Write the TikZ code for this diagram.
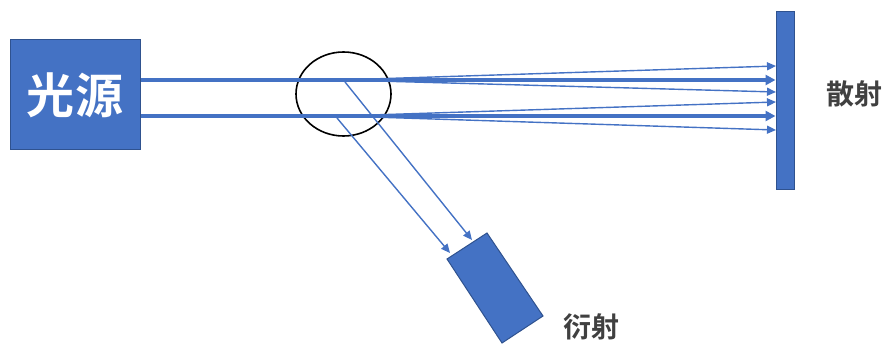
\documentclass[tikz,border=0pt]{standalone}
\usepackage{fontspec}
\newfontfamily\cjk{Noto Sans CJK SC}[BoldFont={Noto Sans CJK SC Bold}]
\usetikzlibrary{arrows.meta,shapes.geometric}
\definecolor{beamblue}{HTML}{4472C4}
\definecolor{edgeblue}{HTML}{2F528F}
\definecolor{labelgray}{HTML}{404040}
\tikzset{
  beam/.style={beamblue,line width=3.2pt,-{Triangle[length=10pt,width=10pt]}},
  ray/.style={beamblue,line width=1.4pt,-{Triangle[length=9pt,width=8pt]}},
  part/.style={fill=beamblue,draw=edgeblue,line width=1pt},
  lbl/.style={text=labelgray,font=\cjk\bfseries\fontsize{28}{28}\selectfont}
}
\begin{document}
\begin{tikzpicture}[x=1pt,y=-1pt]
\useasboundingbox (0,0) rectangle (893,344);
% source, screen, detector
\node[part,minimum width=130pt,minimum height=110pt,inner sep=0pt,
  text=white,font=\cjk\bfseries\fontsize{48}{48}\selectfont] (src) at (75,95) {光源};
\node[part,minimum width=18pt,minimum height=178pt,inner sep=0pt] (scr) at (785,101) {};
\draw[part] (447,259) -- (487,233) -- (543,316) -- (502,343) -- cycle;
\node[lbl] (scat) at (854,94) {散射};
\node[lbl] (diff) at (591,327) {衍射};
% sample
\draw[black,line width=1.6pt] (343.5,94) ellipse [x radius=47.5pt,y radius=42pt];
% incoming beams
\coordinate (up) at (340,80);
\coordinate (lo) at (340,116);
\draw[beam] (src.east |- up) -- (scr.west |- up);
\draw[beam] (src.east |- lo) -- (scr.west |- lo);
% scattered rays
\draw[ray] (up) -- (776,66);
\draw[ray] (up) -- (776,92);
\draw[ray] (lo) -- (776,102);
\draw[ray] (lo) -- (776,130);
% diffracted rays
\draw[ray] (345,82) -- (472,240);
\draw[ray] (337,118) -- (450,253);
\end{tikzpicture}
\end{document}
